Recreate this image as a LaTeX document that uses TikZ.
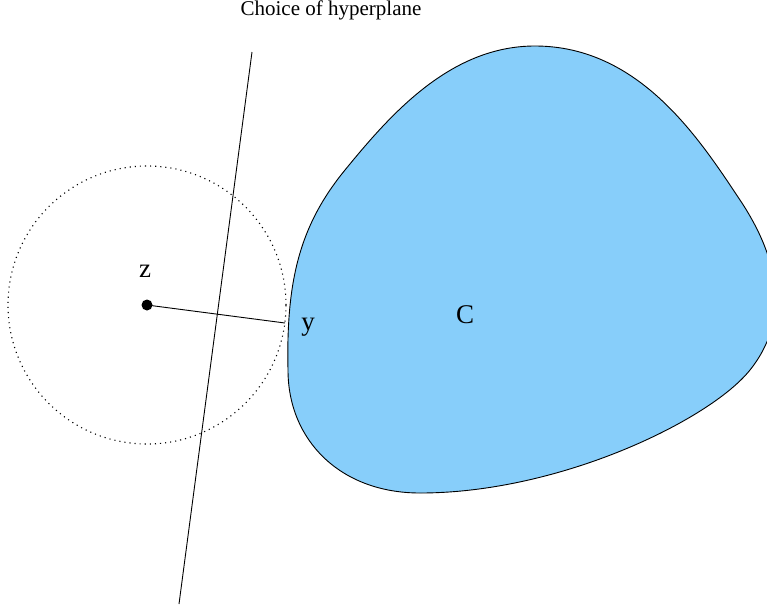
\documentclass[tikz,border=0pt]{standalone}
\usepackage{fontspec}
\setmainfont{Liberation Serif}
\definecolor{blobblue}{HTML}{87CEFA}
\tikzset{
  lbl/.style={inner sep=0pt, font=\fontsize{27}{30}\selectfont},
  ttl/.style={inner sep=0pt, font=\fontsize{21}{24}\selectfont},
  thinline/.style={line width=0.9pt, black},
}
\begin{document}
\begin{tikzpicture}[x=1pt,y=-1pt]
\useasboundingbox (0,0) rectangle (767,613);
\begin{scope}
\clip (0,0) rectangle (767,613);
\draw[fill=blobblue, line width=0.9pt]
 (288,370) .. controls (286,280) and (300,225) .. (345,170)
 .. controls (390,115) and (450,46) .. (535,46)
 .. controls (640,46) and (700,140) .. (740,200)
 .. controls (780,260) and (790,320) .. (750,370)
 .. controls (710,420) and (560,493) .. (420,493)
 .. controls (340,493) and (288,440) .. (288,370) -- cycle;
\end{scope}
\node[ttl, anchor=base] (title) at (331,16) {Choice of hyperplane};
\coordinate (htop) at (252,52);
\coordinate (hbot) at (179,604);
\draw[thinline] (htop) -- (hbot);
\node[draw, circle, minimum size=278pt, inner sep=0pt, line width=1.1pt, dash pattern=on 1.1pt off 4pt] (ball) at (147,305) {};
\node[circle, fill=black, minimum size=11pt, inner sep=0pt] (z) at (147,305) {};
\coordinate (y) at (285,323);
\draw[thinline] (z.center) -- (y);
\node[lbl] (zl) at (145,271) {z};
\node[lbl] (yl) at (308,327) {y};
\node[lbl] (cl) at (465,315) {C};
\end{tikzpicture}
\end{document}
